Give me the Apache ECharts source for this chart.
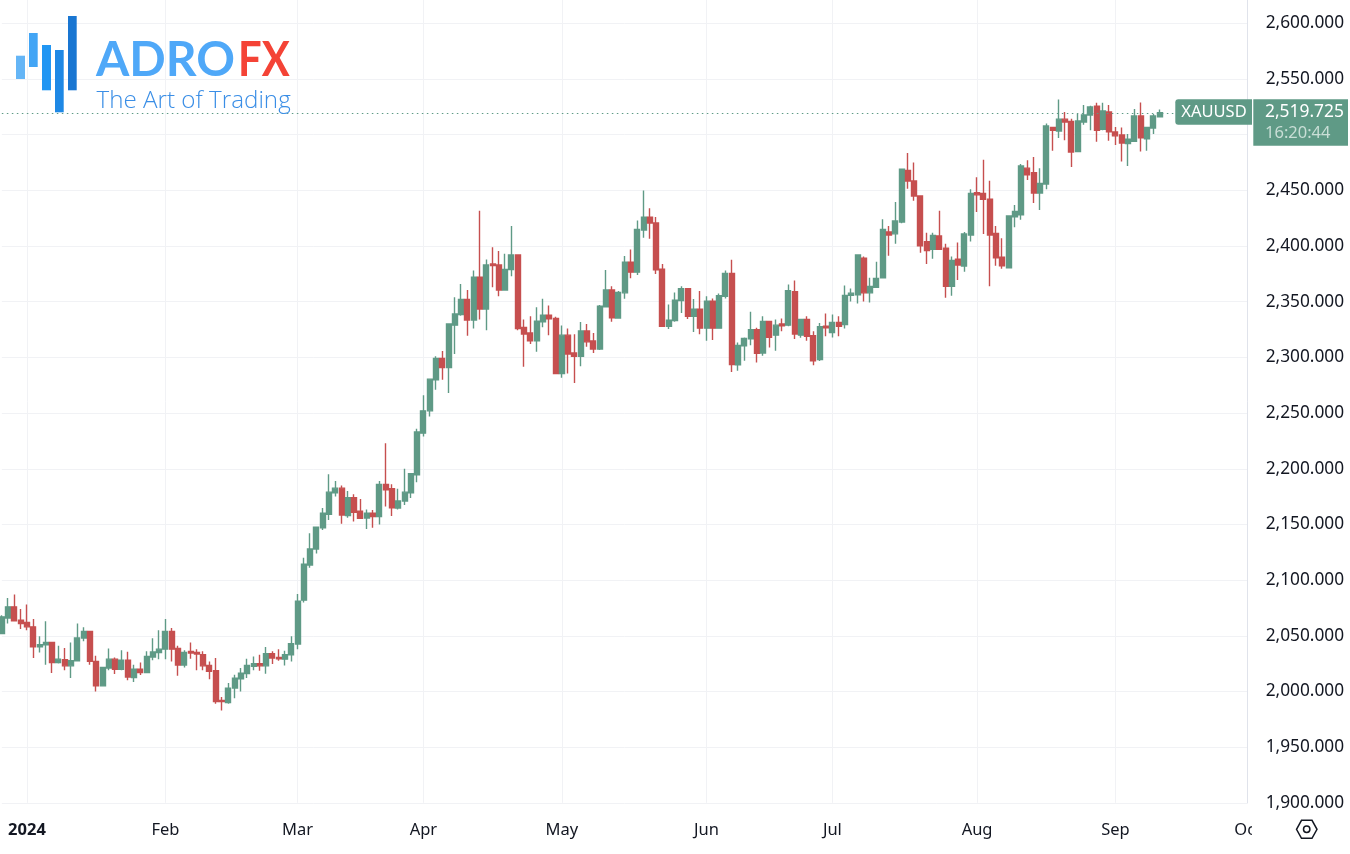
<!DOCTYPE html>
<html>
<head>
<meta charset="utf-8">
<style>html,body{margin:0;padding:0;background:#fff}#chart{width:1350px;height:854px}</style>
<script src="https://cdn.jsdelivr.net/npm/echarts@6/dist/echarts.min.js"></script>
</head>
<body>
<div id="chart"></div>
<script>
const opens = [
2052,2066,2076,2064,2062,2058,2040,2042,2044,2026,
2028.5,2023,2027.6,2048,2054,2027,2005,2021,2029,2020,
2028,2012.6,2020,2017,2031,2035,2038,2054,2038.7,2023.7,
2036,2035,2033,2023.4,2018.6,1992,1990,2003,2011.4,2016,
2022.5,2025,2023,2034,2030.6,2029,2033,2042.6,2082,2113.5,
2128,2147,2159,2178.4,2182.6,2158,2174,2162,2155.7,2160,
2157,2186,2182,2164.7,2171,2178.4,2194.6,2232,2252,2280,
2299,2291,2329,2338.6,2352,2333.5,2372,2343.4,2384,2383,
2360.5,2379,2392,2327,2322,2315,2332,2338,2335,2285.6,
2320,2304,2301,2323.7,2314.7,2307.5,2345.5,2360.5,2335.3,2358,
2385.6,2376.6,2414.4,2426,2420.7,2379.3,2328,2333,2351,2361.7,
2337,2343.4,2326.3,2350.6,2326.3,2355,2375.4,2293.4,2310.5,2316.8,
2325,2304,2332.3,2320,2330,2329,2359,2320,2334,2319.5,
2298,2328,2322.4,2331.4,2329.6,2355.7,2356.3,2389,2358,2363,
2371.6,2412.6,2411,2421.6,2468,2458.4,2445,2404,2397,2409,
2398,2363.8,2388.3,2382,2410,2448,2447.3,2442,2411.4,2390,
2380.5,2426.3,2428,2470,2466,2447.6,2455.7,2506.6,2503.3,2514,
2512,2485,2511.4,2517.7,2525.7,2504.8,2520.4,2502.4,2499.7,2492,
2494,2516.8,2496.4,2506,2516.2];
const closes = [
2067,2076,2063.5,2061,2058,2040,2042,2044,2026,2029,
2023,2027.6,2048,2054,2027,2005,2021.6,2029,2020,2028,
2013,2020,2017,2031.5,2035.4,2038,2054,2038,2023.7,2035,
2034.6,2033.6,2023,2018,1991,1991,2003,2012,2016.5,2023.4,
2025,2023,2034,2030,2029.4,2033,2043,2081,2114.4,2128,
2147.6,2160,2179,2182.6,2158.4,2174,2161,2155.4,2160,2157,
2186,2181,2165,2171,2179,2195.5,2233,2252,2280.5,2299,
2291,2330,2339,2352,2333.5,2372,2343.4,2383,2382.6,2360.5,
2379,2392,2326,2321,2315,2332.6,2338,2334.7,2285.6,2320,
2303,2301,2323.7,2314,2307.5,2346,2360.5,2335.6,2358.4,2385.6,
2376.6,2415,2426,2420.7,2378.7,2328,2333.5,2351.5,2361.7,2337,
2343.4,2326.3,2350.6,2326.3,2355.4,2375.4,2293.7,2310.8,2317,2325,
2303.6,2332.3,2318,2329,2328.4,2360,2321,2334,2319,2297,
2327.6,2326.6,2331.4,2328,2355.7,2357.7,2392,2358,2363.8,2371,
2415,2410,2422.5,2469,2458.4,2445,2400.3,2396,2409.6,2397,
2363.8,2387,2383,2410.8,2447.3,2446,2442,2410,2389.5,2382.3,
2427,2431,2472,2464,2447.6,2456.3,2507.8,2504,2514,2511.4,
2484.4,2512.3,2517.7,2525,2504,2521.3,2502.7,2499,2492.5,2496,
2516.8,2497.3,2506.6,2516.8,2519.7];
const lows = [
2052,2061,2063,2056,2055,2030,2035,2024,2016.5,2025,
2019,2012,2027.6,2045,2024,2000,2005,2019,2015.6,2019,
2010,2008.4,2014.7,2017,2028,2029,2029,2027,2014,2021.6,
2029.4,2019,2019,2011,1989,1983,1989,1994,2000,2012,
2019,2018.6,2016,2024.6,2027.6,2023.4,2027,2038,2080,2111,
2124,2145,2154,2175,2150.6,2156,2152.7,2155.4,2146,2147,
2150,2166,2157.5,2163.5,2167.4,2173.7,2188,2229,2247,2271,
2280,2268,2303,2337.4,2319.5,2326,2334,2324.5,2363,2355,
2360.5,2373,2324.5,2291.6,2312,2305,2327,2320,2285.6,2281.7,
2285.6,2277,2292,2309.6,2304,2306.6,2345.5,2332,2334.7,2352.7,
2371,2374,2407.5,2406.6,2375,2327.5,2325.5,2332,2340,2334.4,
2322.8,2320.7,2315,2315.6,2326,2353,2287,2288,2297,2311,
2295.5,2301.5,2309,2306,2323.4,2328,2316.5,2317.7,2315,2293,
2296.7,2319,2318,2319,2326,2350.3,2348.5,2350.3,2349.4,2363,
2371.6,2391.3,2402,2420.4,2451.5,2440.7,2394,2384,2388.6,2397,
2353.6,2355.4,2369.5,2377,2404,2430.5,2410.8,2364,2382.3,2379.6,
2380.5,2417,2423.7,2459.3,2438.6,2432.3,2451,2485.6,2497,2495,
2471,2484.4,2509,2504,2493.7,2504,2494.6,2490.7,2476,2472,
2494,2485,2485.6,2500.6,2515.5];
const highs = [
2068.5,2084,2087,2074,2078,2065,2049.5,2063,2044,2041,
2039,2044,2061,2057.6,2054.6,2032,2021.6,2038.5,2030.6,2037,
2035.7,2024,2026,2036,2047.7,2055,2065,2057,2041,2037,
2044,2038,2036,2027,2030,1995,2007.5,2015,2021,2029.4,
2031.5,2033,2040,2036,2038,2036.6,2049.5,2087.6,2120,2142,
2147.6,2164.7,2195,2189,2185,2180,2177,2172.8,2163.5,2163,
2189,2223,2186,2182,2200,2195.5,2236,2266,2281,2301,
2305.7,2330.5,2354,2366,2360.5,2378,2431.7,2388,2399,2395.5,
2393,2418,2392,2334,2337,2345,2352.7,2346.7,2336.5,2328.7,
2326,2320.7,2331.7,2330,2322,2347,2378.4,2364,2359.6,2391,
2397,2423,2450,2434,2426,2384,2347.6,2358.4,2364,2361.7,
2352.4,2359.6,2355,2353,2357.5,2378,2387.7,2313.5,2318,2341,
2326.6,2337,2332.3,2334,2335,2365.5,2369,2334,2337,2323.4,
2331,2339.5,2338.6,2337,2364.7,2362,2392.5,2390.7,2371.5,2386,
2424,2418,2439.5,2469,2483.5,2475,2445,2412,2412,2431.7,
2402,2390.7,2403.3,2412.6,2451,2461.7,2477.5,2458.7,2418,2407,
2427,2437,2473.7,2477,2480,2470,2510,2507,2531.7,2520.4,
2514.4,2518.6,2526.6,2526,2528.7,2528.7,2526.6,2507,2506.6,2500.6,
2523,2529,2506.6,2518.6,2522.7];
const tickIndices = [4,26,47,67,89,112,132,155,177,198];
const tickLabels = ['2024','Feb','Mar','Apr','May','Jun','Jul','Aug','Sep','Oct'];
const barSlots = 199;
const lastPrice = 2519.725;
const symbolName = 'XAUUSD';
const priceText = '2,519.725';
const countdownText = '16:20:44';

const categories = Array.from({length: barSlots}, (_, i) => {
  const t = tickIndices.indexOf(i);
  return t >= 0 ? tickLabels[t] : String(i);
});
const candles = opens.map((o, i) => [o, closes[i], lows[i], highs[i]]);
const isTick = i => tickIndices.indexOf(i) >= 0;
const UP = '#5f9a86', DOWN = '#c64f4f', GRID = '#f1f2f5', TEXT = '#131722';
const FONT = '"Noto Sans", sans-serif';
const chart = echarts.init(document.getElementById('chart'), null, {renderer: 'canvas'});
chart.setOption({
  animation: false,
  backgroundColor: '#ffffff',
  grid: {left: 1.83, top: 0, width: 1245.8, height: 802.8, containLabel: false},
  xAxis: {
    type: 'category', data: categories, boundaryGap: false,
    axisLine: {show: false}, axisTick: {show: false},
    splitLine: {show: true, interval: i => isTick(i), lineStyle: {color: GRID, width: 1}},
    axisLabel: {
      interval: i => isTick(i), margin: 19, color: TEXT, fontFamily: FONT, fontSize: 16.5,
      hideOverlap: false,
      formatter: v => v === '2024' ? '{b|2024}' : v,
      rich: {b: {fontWeight: 'bold', fontFamily: FONT, fontSize: 16.5, color: TEXT}}
    }
  },
  yAxis: {
    type: 'value', position: 'right', min: 1900, max: 2621, interval: 50,
    axisLine: {show: true, lineStyle: {color: '#e0e3eb', width: 1}},
    axisTick: {show: false},
    splitLine: {show: true, showMaxLine: false, lineStyle: {color: GRID, width: 1}},
    axisLabel: {
      margin: 18, color: TEXT, fontFamily: FONT, fontSize: 17.3, showMaxLabel: false,
      formatter: v => v.toLocaleString('en-US', {minimumFractionDigits: 3, maximumFractionDigits: 3})
    }
  },
  series: [{
    type: 'candlestick', data: candles, clip: false, barWidth: 5.5,
    itemStyle: {color: UP, color0: DOWN, borderColor: UP, borderColor0: DOWN, borderWidth: 1.4},
    markLine: {
      silent: true, symbol: 'none', animation: false, label: {show: false},
      lineStyle: {color: UP, type: [1.5, 3.5], width: 1.2},
      data: [{yAxis: lastPrice}]
    }
  }],
  graphic: [
    {type: 'rect', z: 100, shape: {x: 1252, y: 815, width: 98, height: 39}, style: {fill: '#fff'}},
    {type: 'rect', z: 101, shape: {x: 16, y: 55.7, width: 9, height: 23.3}, style: {fill: '#64b5f6'}},
    {type: 'rect', z: 101, shape: {x: 29, y: 33, width: 8.7, height: 34}, style: {fill: '#42a5f5'}},
    {type: 'rect', z: 101, shape: {x: 42, y: 45, width: 9, height: 45.3}, style: {fill: '#2196f3'}},
    {type: 'rect', z: 101, shape: {x: 55, y: 50, width: 8.7, height: 62.3}, style: {fill: '#1e88e5'}},
    {type: 'rect', z: 101, shape: {x: 68, y: 16, width: 8.7, height: 74.3}, style: {fill: '#1976d2'}},
    {type: 'text', z: 101, style: {x: 96, y: 61, text: 'ADRO', fill: '#4fa8f8', font: '700 48px Lato, sans-serif', textVerticalAlign: 'middle'}},
    {type: 'text', z: 101, x: 238, y: 61, scaleX: 0.87, style: {x: 0, y: 0, text: 'FX', fill: '#f44336', font: '700 48px Lato, sans-serif', textVerticalAlign: 'middle'}},
    {type: 'text', z: 101, style: {x: 96.5, y: 101, text: 'The Art of Trading', fill: '#3a8ee6', font: '300 24.2px "Open Sans", sans-serif', textVerticalAlign: 'middle'}},
    {type: 'rect', z: 102, shape: {x: 1175.3, y: 99.3, width: 76.7, height: 25.4, r: [3, 0, 0, 3]}, style: {fill: UP}},
    {type: 'text', z: 103, style: {x: 1214, y: 112.5, text: symbolName, fill: '#fff', font: '16.5px ' + FONT, textAlign: 'center', textVerticalAlign: 'middle'}},
    {type: 'rect', z: 102, shape: {x: 1253.3, y: 99.3, width: 94.7, height: 46.4}, style: {fill: UP}},
    {type: 'text', z: 103, style: {x: 1265, y: 112, text: priceText, fill: '#fff', font: '17.4px ' + FONT, textVerticalAlign: 'middle'}},
    {type: 'text', z: 103, style: {x: 1265, y: 133, text: countdownText, fill: '#c9ded6', font: '16.5px ' + FONT, textVerticalAlign: 'middle'}},
    {type: 'polygon', z: 103, shape: {points: [[1296.5, 829.3], [1301.5, 820.3], [1312, 820.3], [1317, 829.3], [1312, 838.3], [1301.5, 838.3]]}, style: {fill: 'none', stroke: TEXT, lineWidth: 1.5}},
    {type: 'circle', z: 103, shape: {cx: 1306.7, cy: 829.3, r: 3.2}, style: {fill: 'none', stroke: TEXT, lineWidth: 1.5}}
  ]
});
</script>
</body>
</html>
